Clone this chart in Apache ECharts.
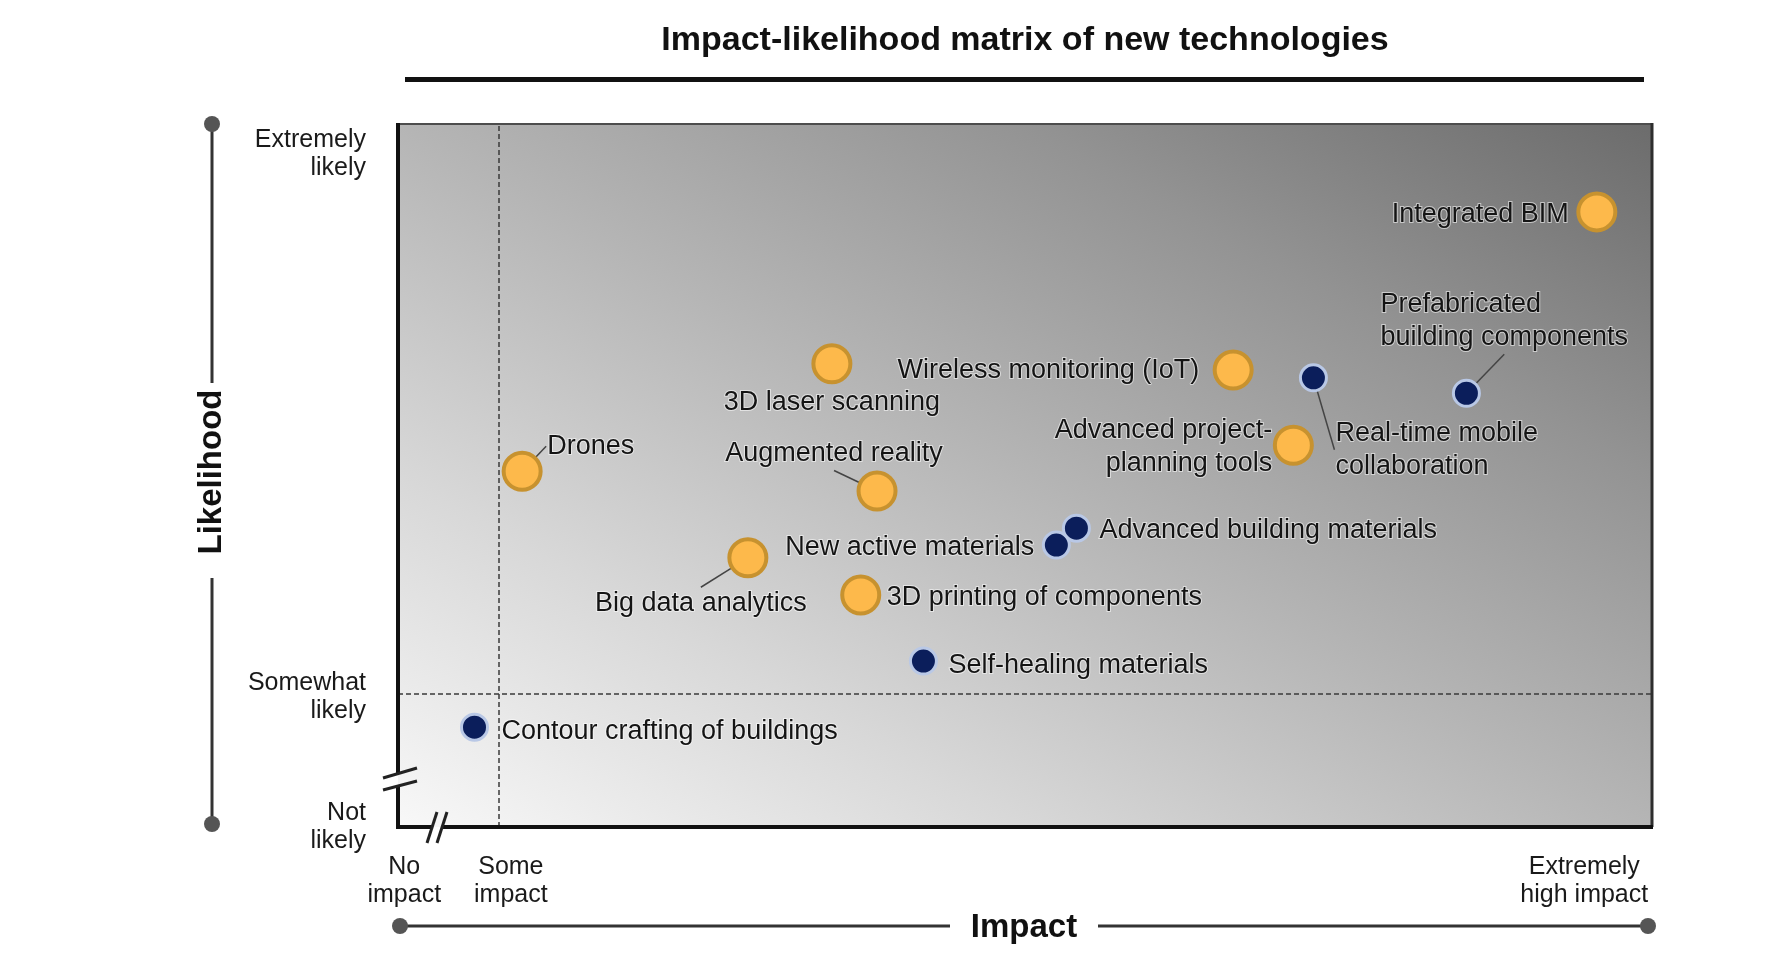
<!DOCTYPE html>
<html>
<head>
<meta charset="utf-8">
<title>Impact-likelihood matrix of new technologies</title>
<script src="https://cdn.jsdelivr.net/npm/echarts@6/dist/echarts.min.js"></script>
<style>
html, body { margin: 0; padding: 0; background: #fff; }
#main { width: 1778px; height: 963px; }
</style>
</head>
<body>
<div id="main"></div>
<script>
// technologies : impact (x, 0~100) / likelihood (y, 0~100)
var techNames = [
	'Integrated BIM',
	'Prefabricated\nbuilding components',
	'Real-time mobile\ncollaboration',
	'Wireless monitoring (IoT)',
	'Advanced project-\nplanning tools',
	'3D laser scanning',
	'Drones',
	'Augmented reality',
	'New active materials',
	'Advanced building materials',
	'Big data analytics',
	'3D printing of components',
	'Self-healing materials',
	'Contour crafting of buildings'
];
var impactVals     = [95.6, 85.2, 73.0, 66.6, 71.4, 34.6,  9.9, 38.2, 52.5, 54.1, 27.9, 36.9, 41.9,  6.1];
var likelihoodVals = [87.5, 61.7, 63.9, 65.0, 54.3, 65.9, 50.6, 47.8, 40.1, 42.5, 38.3, 33.0, 23.6, 14.2];
var techGroup      = ['digital', 'physical', 'physical', 'digital', 'digital', 'digital', 'digital', 'digital',
                      'physical', 'physical', 'digital', 'digital', 'physical', 'physical'];

var yTickValues = [0, 18.5, 95.7];
var yTickLabels = ['Not\nlikely', 'Somewhat\nlikely', 'Extremely\nlikely'];
var xTickValues = [0.5, 9, 94.6];
var xTickLabels = ['No\nimpact', 'Some\nimpact', 'Extremely\nhigh impact'];

var someImpactLine = 8;      // 세로 점선
var somewhatLikelyLine = 19; // 가로 점선

// label placement (offset from the point centre, px)
var labelPlace = {
	'Integrated BIM':                 { dx: -28, dy: 3,     align: 'right' },
	'Prefabricated\nbuilding components': { dx: -86, dy: -72, align: 'left', line: true },
	'Real-time mobile\ncollaboration': { dx: 22, dy: 72,    align: 'left', line: true },
	'Wireless monitoring (IoT)':      { dx: -34, dy: 0,     align: 'right' },
	'Advanced project-\nplanning tools': { dx: -21, dy: 2,  align: 'right' },
	'3D laser scanning':              { dx: 0,   dy: 39,    align: 'center' },
	'Drones':                         { dx: 25,  dy: -25,   align: 'left', line: true },
	'Augmented reality':              { dx: -43, dy: -37,   align: 'center', line: true },
	'New active materials':           { dx: -22, dy: 2,     align: 'right' },
	'Advanced building materials':    { dx: 23,  dy: 2,     align: 'left' },
	'Big data analytics':             { dx: -47, dy: 46,    align: 'center', line: true },
	'3D printing of components':      { dx: 26,  dy: 3,     align: 'left' },
	'Self-healing materials':         { dx: 25,  dy: 4,     align: 'left' },
	'Contour crafting of buildings':  { dx: 27,  dy: 4,     align: 'left' }
};

var W = 1778, H = 963;
var GRID = { left: 398, top: 124, right: 126, bottom: 136 };
var plotL = GRID.left, plotT = GRID.top, plotR = W - GRID.right, plotB = H - GRID.bottom;

function build_data(group) { // 그룹별 데이터 구성
	var res = [];
	for (var i = 0; i < techNames.length; i++) {
		if (techGroup[i] !== group) continue;
		var p = labelPlace[techNames[i]];
		res.push({
			name: techNames[i],
			value: [impactVals[i], likelihoodVals[i]],
			label: { offset: [p.dx, p.dy], align: p.align },
			labelLine: { show: !!p.line }
		});
	}
	return res;
}

var labelCommon = {
	show: true,
	position: 'inside',
	verticalAlign: 'middle',
	formatter: '{b}',
	color: '#141414',
	fontFamily: 'Liberation Sans',
	fontSize: 27,
	lineHeight: 33,
	textBorderColor: 'rgba(255,255,255,0.55)',
	textBorderWidth: 2
};
var labelLineCommon = { length: 0, length2: 0, lineStyle: { color: '#444', width: 1.5 } };

function seg(x1, y1, x2, y2, color, width) {
	return { type: 'line', z: 100, silent: true, shape: { x1: x1, y1: y1, x2: x2, y2: y2 },
		style: { stroke: color, lineWidth: width, lineCap: 'butt' } };
}
function dot(x, y) {
	return { type: 'circle', z: 100, silent: true, shape: { cx: x, cy: y, r: 8 }, style: { fill: '#555' } };
}

// 배경 그라데이션 : 좌하단 밝게 → 우상단 어둡게 (좌상단, 우하단이 같은 톤)
var pw = plotR - plotL, ph = plotB - plotT;
var gk = (2 * pw * ph) / (ph * ph + pw * pw);
var gradX2 = ph * gk / pw, gradY2 = 1 - pw * gk / ph;

var myChart = echarts.init(document.getElementById('main'));

var option = {
	backgroundColor: '#fff',
	animation: false,
	title: {
		text: 'Impact-likelihood matrix of new technologies',
		left: (plotL + plotR) / 2,
		top: 24,
		padding: 0,
		textAlign: 'center',
		textStyle: { fontFamily: 'Liberation Sans', fontSize: 34, fontWeight: 'bold', color: '#111' }
	},
	grid: {
		left: GRID.left, top: GRID.top, right: GRID.right, bottom: GRID.bottom,
		show: true,
		borderWidth: 0,
		backgroundColor: {
			type: 'linear', x: 0, y: 1, x2: gradX2, y2: gradY2,
			colorStops: [
				{ offset: 0, color: '#f8f8f8' },
				{ offset: 0.25, color: '#d8d8d8' },
				{ offset: 0.5, color: '#b5b5b5' },
				{ offset: 0.75, color: '#939393' },
				{ offset: 1, color: '#6c6c6c' }
			]
		}
	},
	xAxis: {
		type: 'value', min: 0, max: 100,
		axisLine: { show: false },
		axisTick: { show: false },
		splitLine: { show: false },
		axisLabel: {
			customValues: xTickValues,
			margin: 26,
			fontFamily: 'Liberation Sans', fontSize: 25, lineHeight: 28, color: '#1a1a1a',
			formatter: function (v) {
				var k = xTickValues.indexOf(v);
				return k >= 0 ? xTickLabels[k] : '';
			}
		}
	},
	yAxis: {
		type: 'value', min: 0, max: 100,
		axisLine: { show: false },
		axisTick: { show: false },
		splitLine: { show: false },
		axisLabel: {
			customValues: yTickValues,
			margin: 32,
			align: 'right',
			fontFamily: 'Liberation Sans', fontSize: 25, lineHeight: 28, color: '#1a1a1a',
			formatter: function (v) {
				var k = yTickValues.indexOf(v);
				return k >= 0 ? yTickLabels[k] : '';
			}
		}
	},
	series: [
		{
			name: 'digital',
			type: 'scatter',
			symbolSize: 37,
			itemStyle: { color: '#fdb94b', borderColor: '#c7922f', borderWidth: 4, opacity: 1 },
			label: labelCommon,
			labelLine: labelLineCommon,
			emphasis: { disabled: true },
			data: build_data('digital'),
			markLine: {
				silent: true,
				symbol: 'none',
				label: { show: false },
				lineStyle: { color: '#3a3a3a', width: 1.5, type: [5, 3] },
				data: [{ xAxis: someImpactLine }, { yAxis: somewhatLikelyLine }]
			}
		},
		{
			name: 'physical',
			type: 'scatter',
			symbolSize: 26,
			itemStyle: { color: '#0b1e5b', borderColor: '#b9c8e6', borderWidth: 3, opacity: 1 },
			label: labelCommon,
			labelLine: labelLineCommon,
			emphasis: { disabled: true },
			data: build_data('physical')
		}
	],
	graphic: [
		// title underline
		{ type: 'rect', z: 100, silent: true, shape: { x: 405, y: 77, width: 1239, height: 5 }, style: { fill: '#111' } },
		// plot frame (top / right thin grey, left / bottom black with breaks)
		seg(plotL, plotT, plotR, plotT, '#4d4d4d', 2),
		seg(plotR, plotT - 1, plotR, plotB, '#2e2e2e', 3),
		seg(plotL, plotT - 1, plotL, 773, '#111', 4),
		seg(plotL, 786, plotL, plotB, '#111', 4),
		seg(plotL - 2, plotB, 432, plotB, '#111', 4),
		seg(442, plotB, plotR + 1, plotB, '#111', 4),
		seg(383, 778, 417, 768, '#222', 3),
		seg(383, 790, 417, 781, '#222', 3),
		seg(427, 843, 437, 812, '#222', 3),
		seg(437, 843, 447, 812, '#222', 3),
		// outer likelihood axis
		seg(212, 124, 212, 383, '#333', 3),
		seg(212, 578, 212, 824, '#333', 3),
		dot(212, 124), dot(212, 824),
		{ type: 'text', z: 100, silent: true, x: 212, y: 472, rotation: Math.PI / 2,
			style: { text: 'Likelihood', align: 'center', verticalAlign: 'middle',
				font: 'bold 33px "Liberation Sans"', fill: '#111' } },
		// outer impact axis
		seg(400, 926, 950, 926, '#333', 3),
		seg(1098, 926, 1648, 926, '#333', 3),
		dot(400, 926), dot(1648, 926),
		{ type: 'text', z: 100, silent: true, x: 1024, y: 928,
			style: { text: 'Impact', align: 'center', verticalAlign: 'middle',
				font: 'bold 33px "Liberation Sans"', fill: '#111' } }
	]
};

myChart.setOption(option);
</script>
</body>
</html>
